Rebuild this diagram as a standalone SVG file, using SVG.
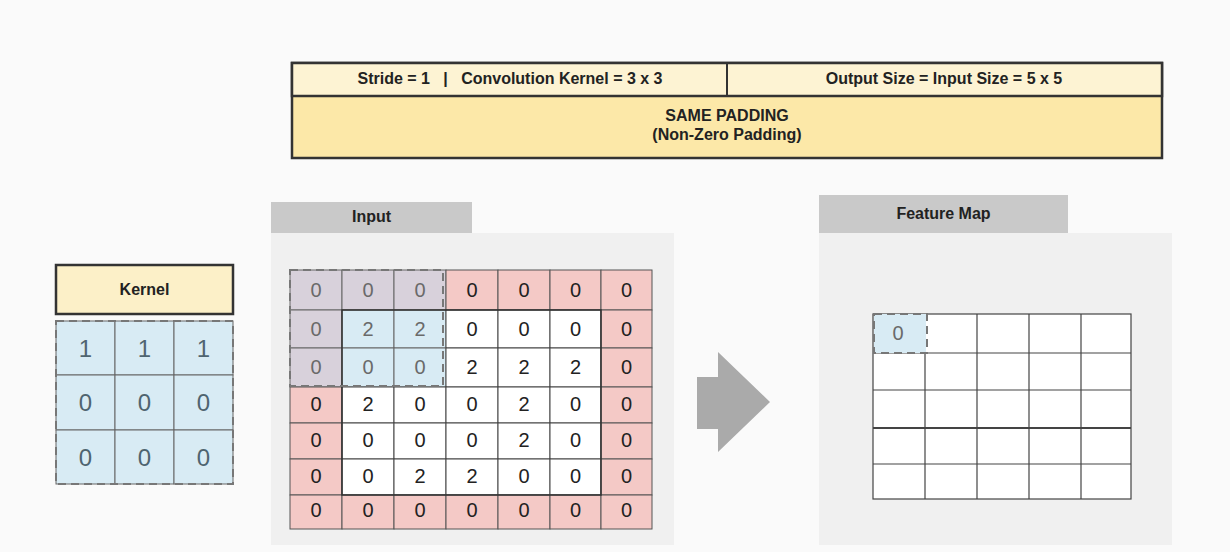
<svg xmlns="http://www.w3.org/2000/svg" width="1230" height="552" viewBox="0 0 1230 552">
<style>
.hdr{font-family:"Liberation Sans",Arial,sans-serif;font-weight:bold;font-size:16px;fill:#222;text-anchor:middle}
.num{font-family:"Liberation Sans",Arial,sans-serif;font-size:20px;fill:#222;text-anchor:middle}
.dim{fill:#6a6a6a}
.knum{font-family:"Liberation Sans",Arial,sans-serif;font-size:24px;fill:#4f6470;text-anchor:middle}
.pad{fill:#f4c9c6;stroke:#555;stroke-width:1}
.win{fill:#d8d1db;stroke:#666;stroke-width:1}
.blue{fill:#d8ebf4;stroke:#666;stroke-width:1}
.wh{fill:#ffffff;stroke:#444;stroke-width:1}
.dash{fill:none;stroke:#777;stroke-width:2;stroke-dasharray:8,5}
.tab{fill:#c9c9c9}
.panel{fill:#f0f0f0}
</style>
<rect width="1230" height="552" fill="#fafafa"/>

<g id="header">
<rect x="292" y="63" width="870" height="95" fill="#fce8a8" stroke="#333" stroke-width="2.5"/>
<rect x="292" y="63" width="870" height="33" fill="#fdf3d3" stroke="#333" stroke-width="2.5"/>
<line x1="727" y1="63" x2="727" y2="96" stroke="#333" stroke-width="2"/>
<text class="hdr" x="510" y="84">Stride = 1 &#160; | &#160; Convolution Kernel = 3 x 3</text>
<text class="hdr" x="944" y="84">Output Size = Input Size = 5 x 5</text>
<text class="hdr" x="727" y="121">SAME PADDING</text>
<text class="hdr" x="727" y="140">(Non-Zero Padding)</text>
</g>

<g id="kernel">
<rect x="56" y="265" width="177" height="49" fill="#fcf0c8" stroke="#333" stroke-width="2.5"/>
<text class="hdr" x="144.5" y="295">Kernel</text>
<g>
<rect class="blue" x="56" y="321" width="59" height="54"/><rect class="blue" x="115" y="321" width="59" height="54"/><rect class="blue" x="174" y="321" width="59" height="54"/>
<rect class="blue" x="56" y="375" width="59" height="55"/><rect class="blue" x="115" y="375" width="59" height="55"/><rect class="blue" x="174" y="375" width="59" height="55"/>
<rect class="blue" x="56" y="430" width="59" height="54"/><rect class="blue" x="115" y="430" width="59" height="54"/><rect class="blue" x="174" y="430" width="59" height="54"/>
<rect class="dash" x="56" y="321" width="177" height="163"/>
</g>
<text class="knum" x="85.5" y="357">1</text><text class="knum" x="144.5" y="357">1</text><text class="knum" x="203.5" y="357">1</text>
<text class="knum" x="85.5" y="411">0</text><text class="knum" x="144.5" y="411">0</text><text class="knum" x="203.5" y="411">0</text>
<text class="knum" x="85.5" y="466">0</text><text class="knum" x="144.5" y="466">0</text><text class="knum" x="203.5" y="466">0</text>
</g>

<g id="input">
<rect class="panel" x="271" y="233" width="403" height="312"/>
<rect class="tab" x="271" y="202" width="201" height="31"/>
<text class="hdr" x="371.5" y="222">Input</text>
<rect class="win" x="290" y="270" width="52" height="40"/><rect class="win" x="342" y="270" width="52" height="40"/><rect class="win" x="394" y="270" width="52" height="40"/>
<rect class="pad" x="446" y="270" width="52" height="40"/><rect class="pad" x="498" y="270" width="52" height="40"/><rect class="pad" x="550" y="270" width="51" height="40"/><rect class="pad" x="601" y="270" width="51" height="40"/>
<rect class="win" x="290" y="310" width="52" height="38"/><rect class="blue" x="342" y="310" width="52" height="38"/><rect class="blue" x="394" y="310" width="52" height="38"/>
<rect class="wh" x="446" y="310" width="52" height="38"/><rect class="wh" x="498" y="310" width="52" height="38"/><rect class="wh" x="550" y="310" width="51" height="38"/><rect class="pad" x="601" y="310" width="51" height="38"/>
<rect class="win" x="290" y="348" width="52" height="39"/><rect class="blue" x="342" y="348" width="52" height="39"/><rect class="blue" x="394" y="348" width="52" height="39"/>
<rect class="wh" x="446" y="348" width="52" height="39"/><rect class="wh" x="498" y="348" width="52" height="39"/><rect class="wh" x="550" y="348" width="51" height="39"/><rect class="pad" x="601" y="348" width="51" height="39"/>
<rect class="pad" x="290" y="387" width="52" height="36"/><rect class="wh" x="342" y="387" width="52" height="36"/><rect class="wh" x="394" y="387" width="52" height="36"/>
<rect class="wh" x="446" y="387" width="52" height="36"/><rect class="wh" x="498" y="387" width="52" height="36"/><rect class="wh" x="550" y="387" width="51" height="36"/><rect class="pad" x="601" y="387" width="51" height="36"/>
<rect class="pad" x="290" y="423" width="52" height="36"/><rect class="wh" x="342" y="423" width="52" height="36"/><rect class="wh" x="394" y="423" width="52" height="36"/>
<rect class="wh" x="446" y="423" width="52" height="36"/><rect class="wh" x="498" y="423" width="52" height="36"/><rect class="wh" x="550" y="423" width="51" height="36"/><rect class="pad" x="601" y="423" width="51" height="36"/>
<rect class="pad" x="290" y="459" width="52" height="36"/><rect class="wh" x="342" y="459" width="52" height="36"/><rect class="wh" x="394" y="459" width="52" height="36"/>
<rect class="wh" x="446" y="459" width="52" height="36"/><rect class="wh" x="498" y="459" width="52" height="36"/><rect class="wh" x="550" y="459" width="51" height="36"/><rect class="pad" x="601" y="459" width="51" height="36"/>
<rect class="pad" x="290" y="495" width="52" height="34"/><rect class="pad" x="342" y="495" width="52" height="34"/><rect class="pad" x="394" y="495" width="52" height="34"/>
<rect class="pad" x="446" y="495" width="52" height="34"/><rect class="pad" x="498" y="495" width="52" height="34"/><rect class="pad" x="550" y="495" width="51" height="34"/><rect class="pad" x="601" y="495" width="51" height="34"/>
<rect x="342" y="310" width="259" height="185" fill="none" stroke="#333" stroke-width="1.5"/>
<rect class="dash" x="290" y="270" width="153" height="116"/>
<g class="num">
<text class="dim" x="316" y="297">0</text><text class="dim" x="368" y="297">0</text><text class="dim" x="420" y="297">0</text><text x="472" y="297">0</text><text x="524" y="297">0</text><text x="575.5" y="297">0</text><text x="626.5" y="297">0</text>
<text class="dim" x="316" y="336">0</text><text class="dim" x="368" y="336">2</text><text class="dim" x="420" y="336">2</text><text x="472" y="336">0</text><text x="524" y="336">0</text><text x="575.5" y="336">0</text><text x="626.5" y="336">0</text>
<text class="dim" x="316" y="374">0</text><text class="dim" x="368" y="374">0</text><text class="dim" x="420" y="374">0</text><text x="472" y="374">2</text><text x="524" y="374">2</text><text x="575.5" y="374">2</text><text x="626.5" y="374">0</text>
<text x="316" y="411">0</text><text x="368" y="411">2</text><text x="420" y="411">0</text><text x="472" y="411">0</text><text x="524" y="411">2</text><text x="575.5" y="411">0</text><text x="626.5" y="411">0</text>
<text x="316" y="447">0</text><text x="368" y="447">0</text><text x="420" y="447">0</text><text x="472" y="447">0</text><text x="524" y="447">2</text><text x="575.5" y="447">0</text><text x="626.5" y="447">0</text>
<text x="316" y="483">0</text><text x="368" y="483">0</text><text x="420" y="483">2</text><text x="472" y="483">2</text><text x="524" y="483">0</text><text x="575.5" y="483">0</text><text x="626.5" y="483">0</text>
<text x="316" y="517">0</text><text x="368" y="517">0</text><text x="420" y="517">0</text><text x="472" y="517">0</text><text x="524" y="517">0</text><text x="575.5" y="517">0</text><text x="626.5" y="517">0</text>
</g>
</g>

<g id="connectors">
<polygon points="697,377 718,377 718,352 770,402 718,452 718,429 697,429" fill="#aaaaaa"/>
</g>

<g id="feature-map">
<rect class="panel" x="819" y="233" width="353" height="312"/>
<rect class="tab" x="819" y="195" width="249" height="38"/>
<text class="hdr" x="943.5" y="219">Feature Map</text>
<rect x="873" y="314" width="258" height="185" fill="#ffffff" stroke="#444" stroke-width="1.2"/>
<g stroke="#444" stroke-width="1.2">
<line x1="925" y1="314" x2="925" y2="499"/><line x1="977" y1="314" x2="977" y2="499"/><line x1="1029" y1="314" x2="1029" y2="499"/><line x1="1081" y1="314" x2="1081" y2="499"/>
<line x1="873" y1="353" x2="1131" y2="353"/><line x1="873" y1="390" x2="1131" y2="390"/><line x1="873" y1="428" x2="1131" y2="428" stroke-width="1.8"/><line x1="873" y1="464" x2="1131" y2="464"/>
</g>
<rect x="874" y="314" width="52" height="39" fill="#d8ebf4"/>
<rect class="dash" x="874" y="314" width="53" height="39"/>
<text class="num dim" x="898" y="340">0</text>
</g>
</svg>
